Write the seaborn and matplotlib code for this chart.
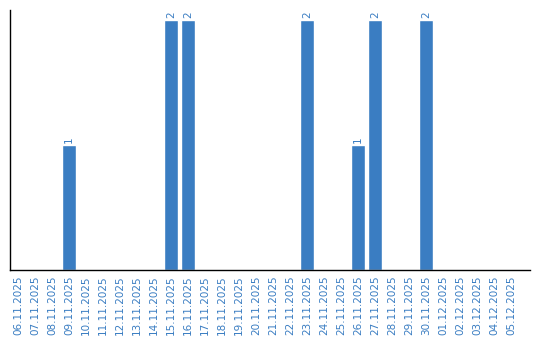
import matplotlib
matplotlib.use("Agg")
import matplotlib.pyplot as plt
import seaborn as sns
import pandas as pd

dates = ["06.11.2025", "07.11.2025", "08.11.2025", "09.11.2025", "10.11.2025",
         "11.11.2025", "12.11.2025", "13.11.2025", "14.11.2025", "15.11.2025",
         "16.11.2025", "17.11.2025", "18.11.2025", "19.11.2025", "20.11.2025",
         "21.11.2025", "22.11.2025", "23.11.2025", "24.11.2025", "25.11.2025",
         "26.11.2025", "27.11.2025", "28.11.2025", "29.11.2025", "30.11.2025",
         "01.12.2025", "02.12.2025", "03.12.2025", "04.12.2025", "05.12.2025"]
values = [0, 0, 0, 1, 0, 0, 0, 0, 0, 2,
          2, 0, 0, 0, 0, 0, 0, 2, 0, 0,
          1, 2, 0, 0, 2, 0, 0, 0, 0, 0]

color = "#3a7dc2"
sns.set_style("white")
df = pd.DataFrame({"date": dates, "value": values})

fig = plt.figure(figsize=(5.4, 3.4), dpi=100)
ax = fig.add_axes([10/540, 70/340, 520/540, 260/340])
sns.barplot(data=df, x="date", y="value", color=color, saturation=1, width=0.82, ax=ax)
ax.set_ylim(0, 2.08)
ax.set_xlim(-0.47, 30.1)
ax.set_xlabel("")
ax.set_ylabel("")
ax.set_yticks([])
ax.tick_params(axis="x", length=0, pad=4, labelsize=7.5, labelcolor=color, rotation=90)
for s in ["top", "right"]:
    ax.spines[s].set_visible(False)
for s in ["left", "bottom"]:
    ax.spines[s].set_color("black")
    ax.spines[s].set_linewidth(1)
for i, v in enumerate(values):
    if v > 0:
        ax.text(i, v + 0.02, str(v), rotation=90, ha="center", va="bottom",
                fontsize=7.5, color=color)
fig.savefig("out.png", dpi=100)
